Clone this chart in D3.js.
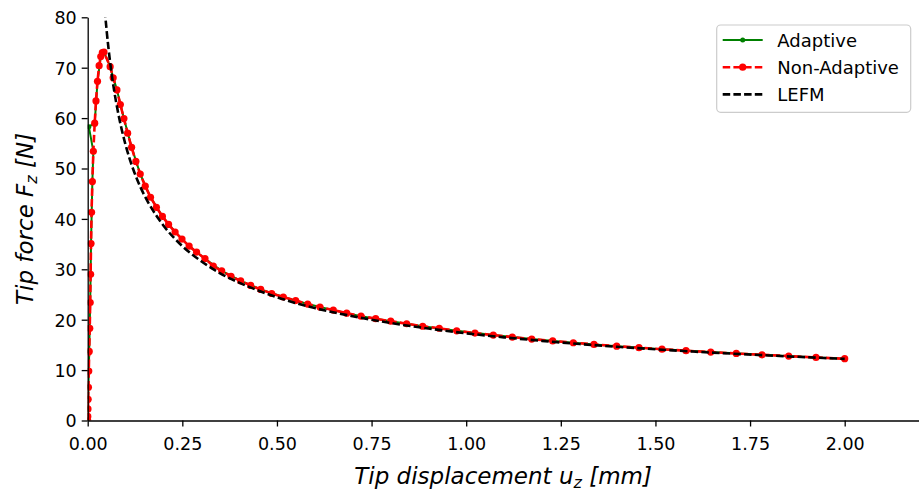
<!DOCTYPE html>
<html>
<head>
<meta charset="utf-8">
<script src="https://cdn.jsdelivr.net/npm/d3@7"></script>
<style>
  html, body { margin: 0; padding: 0; background: #fff; }
  svg { display: block; font-family: "DejaVu Sans", sans-serif; }
</style>
</head>
<body>
<svg id="chart" width="922" height="493"></svg>
<script>
// ---------------- data ----------------
const seriesNames = ["Adaptive", "Non-Adaptive", "LEFM"];
const xTicks = [0, 0.25, 0.5, 0.75, 1.0, 1.25, 1.5, 1.75, 2.0];
const yTicks = [0, 10, 20, 30, 40, 50, 60, 70, 80];

// Non-Adaptive: displacement (mm) and force (N)
const naX = [0, 0.0003, 0.0007, 0.0012, 0.0019, 0.0028, 0.0040, 0.0054, 0.0066, 0.0077,
  0.0088, 0.0102, 0.0123, 0.0149, 0.0185, 0.0219, 0.0259, 0.0302, 0.0345, 0.0387,
  0.0430, 0.0593, 0.0673, 0.0772, 0.0862, 0.0957, 0.1055, 0.1160, 0.1273, 0.1388,
  0.1520, 0.1660, 0.1815, 0.1974, 0.2137, 0.2309, 0.2491, 0.2679, 0.2877, 0.3099,
  0.3318, 0.3540, 0.3786, 0.4042, 0.4306, 0.4571, 0.4861, 0.5168, 0.5495, 0.5812,
  0.6137, 0.6489, 0.6843, 0.7221, 0.7609, 0.8005, 0.8428, 0.8851, 0.9289, 0.9749,
  1.0232, 1.0716, 1.1218, 1.1731, 1.2285, 1.2830, 1.3376, 1.3976, 1.4565, 1.5173,
  1.5807, 1.6460, 1.7136, 1.7815, 1.8520, 1.9242, 2.0000];
const naY = [0, 0.8, 2.3, 4.2, 6.6, 9.8, 13.7, 18.3, 23.4, 29.0,
  35.1, 41.3, 47.4, 53.4, 59.0, 63.4, 67.3, 70.4, 72.2, 73.0,
  73.1, 70.2, 68.0, 65.6, 62.7, 59.9, 57.0, 54.2, 51.4, 48.9,
  46.5, 44.3, 42.3, 40.5, 38.9, 37.4, 36.0, 34.6, 33.4, 32.1,
  30.65, 29.7, 28.6, 27.7, 26.8, 26.0, 25.2, 24.5, 23.8, 23.1,
  22.5, 21.9, 21.3, 20.7, 20.2, 19.7, 19.2, 18.7, 18.3, 17.8,
  17.35, 16.95, 16.55, 16.15, 15.78, 15.43, 15.10, 14.75, 14.45, 14.15,
  13.85, 13.57, 13.30, 13.04, 12.78, 12.52, 12.26];

// Adaptive: displacement (mm) and force (N)
const adX = [0, 0.0007, 0.0019, 0.0040, 0.0066, 0.0088, 0.0123, 0.0149, 0.0030, 0.0185,
  0.0259, 0.0345, 0.0430, 0.0593, 0.0772, 0.0957, 0.1160, 0.1388, 0.1660, 0.1974,
  0.2309, 0.2679, 0.3099, 0.3540, 0.4042, 0.4571, 0.5168, 0.5812, 0.6489, 0.7221,
  0.8005, 0.8851, 0.9749, 1.0716, 1.1731, 1.2830, 1.3976, 1.5173, 1.6460, 1.7815,
  1.9242, 2.0000];
const adY = [0, 2.3, 6.6, 13.7, 23.4, 35.1, 47.4, 53.4, 58.3, 59.0,
  67.3, 72.2, 73.1, 70.2, 65.6, 59.9, 54.2, 48.9, 44.3, 40.5,
  37.4, 34.6, 32.1, 29.7, 27.7, 26.0, 24.5, 23.1, 21.9, 20.7,
  19.7, 18.7, 17.8, 16.95, 16.15, 15.43, 14.75, 14.15, 13.57, 13.04,
  12.52, 12.26];

// LEFM reference solution
const lefmX = [0.045, 0.05, 0.06, 0.07, 0.08, 0.09, 0.10, 0.12, 0.14, 0.16,
  0.18, 0.20, 0.25, 0.30, 0.35, 0.40, 0.45, 0.50, 0.60, 0.70,
  0.80, 0.90, 1.00, 1.10, 1.20, 1.30, 1.40, 1.50, 1.60, 1.70,
  1.80, 1.90, 2.00];
const lefmY = [81.5, 77.4, 70.6, 65.4, 61.2, 57.7, 54.7, 49.9, 46.2, 43.25,
  40.8, 38.7, 34.6, 31.6, 29.2, 27.35, 25.8, 24.45, 22.3, 20.7,
  19.35, 18.25, 17.3, 16.5, 15.8, 15.17, 14.62, 14.13, 13.68, 13.27,
  12.9, 12.55, 12.23];

// ---------------- layout ----------------
const plotLeft = 87.7, plotRight = 918.5, plotTop = 17.3, plotBottom = 420.5;

const svg = d3.select("#chart");
const x = d3.scaleLinear().domain([0, 2.195]).range([plotLeft, plotRight]);
const y = d3.scaleLinear().domain([0, 80]).range([plotBottom, plotTop]);

svg.append("defs").append("clipPath").attr("id", "plotclip")
  .append("rect").attr("x", plotLeft).attr("y", plotTop)
  .attr("width", plotRight - plotLeft).attr("height", plotBottom - plotTop);

const plot = svg.append("g").attr("clip-path", "url(#plotclip)");

const zip = (xs, ys) => xs.map((v, i) => [v, ys[i]]);
const adData = zip(adX, adY);
const naData = zip(naX, naY);
const lefmData = zip(lefmX, lefmY);

const lineStraight = d3.line().x(d => x(d[0])).y(d => y(d[1]));
const lineSmooth = d3.line().x(d => x(d[0])).y(d => y(d[1])).curve(d3.curveMonotoneX);

// Adaptive (green solid with small dots)
plot.append("path").datum(adData)
  .attr("d", lineStraight).attr("fill", "none")
  .attr("stroke", "#008000").attr("stroke-width", 2)
  .attr("stroke-linejoin", "round");
plot.append("g").selectAll("circle").data(adData).join("circle")
  .attr("cx", d => x(d[0])).attr("cy", d => y(d[1])).attr("r", 2.5)
  .attr("fill", "#008000");

// Non-Adaptive (red dashed with dots)
plot.append("path").datum(naData)
  .attr("d", lineStraight).attr("fill", "none")
  .attr("stroke", "#ff0000").attr("stroke-width", 2.6)
  .attr("stroke-dasharray", "7.5,3.2");
plot.append("g").selectAll("circle").data(naData).join("circle")
  .attr("cx", d => x(d[0])).attr("cy", d => y(d[1])).attr("r", 3.6)
  .attr("fill", "#ff0000");

// LEFM (black dashed)
plot.append("path").datum(lefmData)
  .attr("d", lineSmooth).attr("fill", "none")
  .attr("stroke", "#000").attr("stroke-width", 2.6)
  .attr("stroke-dasharray", "7.5,3.2");

// ---------------- axes ----------------
const fmtX = d3.format(".2f");
const xAxis = d3.axisBottom(x).tickValues(xTicks).tickFormat(fmtX)
  .tickSize(6).tickSizeOuter(0).tickPadding(4);
const yAxis = d3.axisLeft(y).tickValues(yTicks).tickFormat(d3.format("d"))
  .tickSize(6).tickSizeOuter(0).tickPadding(5);

const gx = svg.append("g").attr("transform", `translate(0,${plotBottom})`).call(xAxis);
const gy = svg.append("g").attr("transform", `translate(${plotLeft},0)`).call(yAxis);

[gx, gy].forEach(g => {
  g.select(".domain").attr("stroke", "#000").attr("stroke-width", 1.3);
  g.selectAll(".tick line").attr("stroke", "#000").attr("stroke-width", 1.3);
  g.selectAll(".tick text").attr("fill", "#000")
    .style("font-family", "'DejaVu Sans', sans-serif").style("font-size", "17.5px");
});
gx.selectAll(".tick text").attr("dy", null).attr("y", 29.5);
gy.selectAll(".tick text").attr("dy", "0.36em");

// Axis titles (italic, with subscript z)
const xl = svg.append("text")
  .attr("x", (plotLeft + plotRight) / 2).attr("y", 483.5)
  .attr("text-anchor", "middle")
  .style("font-family", "'DejaVu Sans', sans-serif")
  .style("font-size", "23px").style("font-style", "italic");
xl.append("tspan").text("Tip displacement u");
xl.append("tspan").attr("dy", 4).style("font-size", "16px").text("z");
xl.append("tspan").attr("dy", -4).text(" [mm]");

const yl = svg.append("text")
  .attr("transform", `translate(32.5,${(plotTop + plotBottom) / 2}) rotate(-90)`)
  .attr("text-anchor", "middle")
  .style("font-family", "'DejaVu Sans', sans-serif")
  .style("font-size", "23px").style("font-style", "italic");
yl.append("tspan").text("Tip force F");
yl.append("tspan").attr("dy", 4).style("font-size", "16px").text("z");
yl.append("tspan").attr("dy", -4).text(" [N]");

// ---------------- legend ----------------
const lg = svg.append("g");
lg.append("rect").attr("x", 716.7).attr("y", 25).attr("width", 194).attr("height", 87.3)
  .attr("rx", 4).attr("fill", "#fff").attr("fill-opacity", 0.85)
  .attr("stroke", "#cccccc").attr("stroke-width", 1.2);

const legendStyles = [
  { color: "#008000", dash: null, r: 2.5, w: 2 },
  { color: "#ff0000", dash: "7.5,3.2", r: 3.6, w: 2.6 },
  { color: "#000000", dash: "7.5,3.2", r: 0, w: 2.6 }
];
seriesNames.forEach((name, i) => {
  const cy = 40 + i * 27.2;
  const st = legendStyles[i];
  const ln = lg.append("line").attr("x1", 722.7).attr("x2", 762.7)
    .attr("y1", cy).attr("y2", cy)
    .attr("stroke", st.color).attr("stroke-width", st.w);
  if (st.dash) ln.attr("stroke-dasharray", st.dash);
  if (st.r > 0) lg.append("circle").attr("cx", 742.7).attr("cy", cy).attr("r", st.r).attr("fill", st.color);
  lg.append("text").attr("x", 777.3).attr("y", cy + 6.8)
    .style("font-family", "'DejaVu Sans', sans-serif").style("font-size", "18px")
    .attr("fill", "#000").text(name);
});
</script>
</body>
</html>
